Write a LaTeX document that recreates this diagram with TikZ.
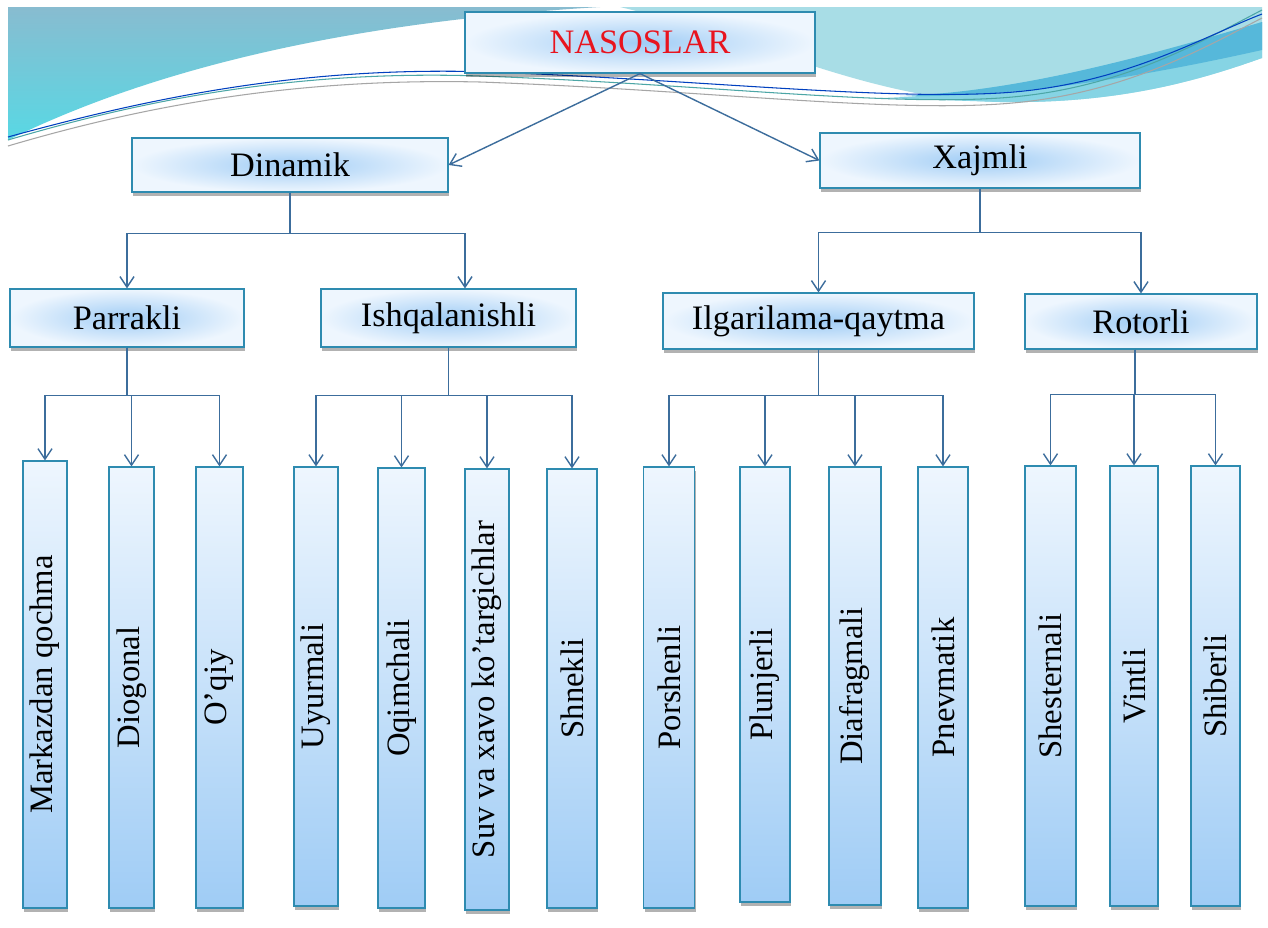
\documentclass[tikz,border=0pt]{standalone}
\usepackage{fontspec}
\setmainfont{Liberation Serif}
\usepackage{graphicx}
\usetikzlibrary{arrows.meta,shadows}

\definecolor{boxline}{HTML}{2E8BB0}
\definecolor{boxdeep}{HTML}{9FCCF5}
\definecolor{boxpale}{HTML}{EEF6FE}
\definecolor{linkblue}{HTML}{3C6D9C}
\definecolor{wavetop}{HTML}{88BCD0}
\definecolor{wavecyan}{HTML}{58D8E4}
\definecolor{wavelight}{HTML}{A8DDE6}
\definecolor{wavestrip}{HTML}{86D4E4}
\definecolor{waveband}{HTML}{56B8DA}
\definecolor{titlered}{HTML}{E8141E}

\begin{document}
\begin{tikzpicture}[
    x=0.02cm, y=-0.02cm,
    group/.style={rectangle, draw=boxline, line width=0.7pt, inner color=boxdeep, outer color=boxpale, font=\fontsize{19.5}{22}\selectfont, drop shadow={shadow xshift=0.6pt, shadow yshift=-2.2pt, opacity=0.3, fill=black}},
    kind/.style={rectangle, draw=boxline, line width=0.7pt, top color=boxpale, bottom color=boxdeep, inner sep=0pt, font=\fontsize{18.6}{21}\selectfont, drop shadow={shadow xshift=0.6pt, shadow yshift=-2.2pt, opacity=0.3, fill=black}},
    link/.style={-{Straight Barb[length=6pt,width=8pt]}, linkblue, line width=0.8pt},
    thread/.style={line width=0.6pt}
]
\useasboundingbox (0,0) rectangle (1268,927);
\fill[white] (0,0) rectangle (1268,927);

% --- Waves ---
\shade[top color=wavetop, bottom color=wavecyan] (8,7) -- (600,7) .. controls (300,25) and (120,85) .. (8,140) -- cycle;
\fill[wavelight] (620,7) -- (1262,7) -- (1262,58) .. controls (1200,80) and (1120,104) .. (1000,102) .. controls (870,100) and (760,40) .. (620,7);
\fill[wavestrip] (880,98) .. controls (1000,95) and (1150,60) .. (1262,22) -- (1262,58) .. controls (1200,80) and (1120,104) .. (1000,102) -- cycle;
\fill[waveband] (900,96) .. controls (1020,92) and (1150,55) .. (1262,22) -- (1262,50) .. controls (1150,75) and (1020,98) .. (900,96);
\draw[thread, teal!70] (8,140) .. controls (150,98) and (300,70) .. (480,76) .. controls (700,84) and (880,106) .. (1000,98) .. controls (1120,90) and (1200,42) .. (1262,10);
\draw[thread, gray!70] (8,146) .. controls (150,104) and (300,78) .. (480,82) .. controls (700,90) and (880,112) .. (1000,104) .. controls (1120,96) and (1200,50) .. (1262,18);
\draw[thread, blue!50!teal] (8,137) .. controls (160,95) and (310,66) .. (490,72) .. controls (700,80) and (880,100) .. (1000,93) .. controls (1120,86) and (1200,38) .. (1262,14);

% --- Upper levels ---
\node[group, minimum width=7cm, minimum height=1.22cm] (nasos) at (640,42.5) {\textcolor{titlered}{NASOSLAR}};
\node[group, minimum width=6.32cm, minimum height=1.08cm] (dinamik) at (290,165) {Dinamik};
\node[group, minimum width=6.4cm, minimum height=1.1cm] (xajmli) at (980,160.5) {Xajmli};
\node[group, minimum width=4.68cm, minimum height=1.16cm] (parrakli) at (127,318) {Parrakli};
\node[group, minimum width=5.1cm, minimum height=1.16cm] (ishq) at (448.5,318) {Ishqalanishli};
\node[group, minimum width=6.22cm, minimum height=1.12cm] (ilgar) at (818.5,321) {Ilgarilama-qaytma};
\node[group, minimum width=4.64cm, minimum height=1.1cm] (rotorli) at (1141,321.5) {Rotorli};

% --- Types ---
\node[kind, minimum width=0.88cm, minimum height=8.94cm] (mark) at (45,684.5) {\rotatebox{90}{Markazdan qochma}};
\node[kind, minimum width=0.9cm, minimum height=8.82cm] (diog) at (131.5,687.5) {\rotatebox{90}{Diogonal}};
\node[kind, minimum width=0.94cm, minimum height=8.82cm] (oqiy) at (219.5,687.5) {\rotatebox{90}{O’qiy}};
\node[kind, minimum width=0.88cm, minimum height=8.78cm] (uyur) at (316,686.5) {\rotatebox{90}{Uyurmali}};
\node[kind, minimum width=0.94cm, minimum height=8.8cm] (oqim) at (401.5,688) {\rotatebox{90}{Oqimchali}};
\node[kind, minimum width=0.88cm, minimum height=8.82cm] (suv) at (487,689.5) {\rotatebox{90}{Suv va xavo ko’targichlar}};
\node[kind, minimum width=1cm, minimum height=8.78cm] (shnek) at (572,688.5) {\rotatebox{90}{Shnekli}};
\node[kind, minimum width=1.02cm, minimum height=8.82cm] (porsh) at (669,687.5) {\rotatebox{90}{Porshenli}};
\node[kind, minimum width=1cm, minimum height=8.7cm] (plunj) at (765,684.5) {\rotatebox{90}{Plunjerli}};
\node[kind, minimum width=1.04cm, minimum height=8.76cm] (diaf) at (855,686) {\rotatebox{90}{Diafragmali}};
\node[kind, minimum width=1cm, minimum height=8.82cm] (pnev) at (943,687.5) {\rotatebox{90}{Pnevmatik}};
\node[kind, minimum width=1.02cm, minimum height=8.8cm] (shest) at (1050.5,686) {\rotatebox{90}{Shesternali}};
\node[kind, minimum width=0.96cm, minimum height=8.8cm] (vint) at (1134,686) {\rotatebox{90}{Vintli}};
\node[kind, minimum width=0.98cm, minimum height=8.8cm] (shib) at (1215.5,686) {\rotatebox{90}{Shiberli}};

% --- Links ---
\draw[link] (nasos.south) -- (dinamik.east);
\draw[link] (nasos.south) -- (xajmli.west);

\draw[link] (dinamik.south) -- ++(0,41) -| (parrakli.north);
\draw[link] (dinamik.south) -- ++(0,41) -| ([xshift=0.33cm]ishq.north);
\foreach \c in {ilgar,rotorli}
    \draw[link] (xajmli.south) -- ++(0,44) -| (\c.north);

\foreach \c in {mark,diog,oqiy}
    \draw[link] (parrakli.south) -- ++(0,48) -| (\c.north);
\foreach \c in {uyur,oqim,suv,shnek}
    \draw[link] (ishq.south) -- ++(0,48) -| (\c.north);
\foreach \c in {porsh,plunj,diaf,pnev}
    \draw[link] (ilgar.south) -- ++(0,46) -| (\c.north);
\foreach \c in {shest,vint,shib}
    \draw[link] ([xshift=-0.12cm]rotorli.south) -- ++(0,45) -| (\c.north);

\end{tikzpicture}
\end{document}
